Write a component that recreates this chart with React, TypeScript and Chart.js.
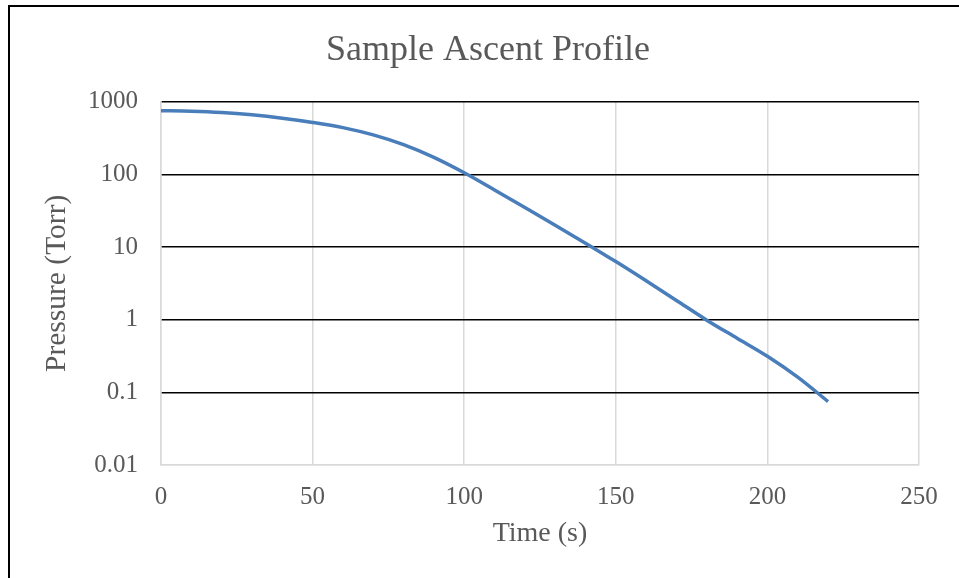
import React, { useEffect, useRef } from "react";
import { Chart, registerables } from "chart.js";

Chart.register(...registerables);

const timeSeconds = [0, 10, 20, 30, 40, 50, 60, 70, 80, 90, 100, 110, 120, 130, 140, 150, 160, 170, 180, 190, 200, 210, 220];
const pressureTorr = [752, 740, 710, 659, 593, 519, 440, 349, 256, 171, 105, 61, 35, 20, 11.3, 6.3, 3.43, 1.84, 0.985, 0.556, 0.314, 0.162, 0.0747];
const yTickValues = [0.01, 0.1, 1, 10, 100, 1000];
const xTickValues = [0, 50, 100, 150, 200, 250];

const chartTitle = "Sample Ascent Profile";
const xTitle = "Time (s)";
const yTitle = "Pressure (Torr)";

const FONT = "'Liberation Serif', 'DejaVu Serif', serif";
const TEXT = "#595959";

const titleShift = {
  id: "titleShift",
  afterLayout(chart: any) {
    const tb = chart.titleBlock;
    if (tb) {
      tb.left = 8;
      tb.right = 968;
      tb.width = 960;
    }
  },
};

export default function App() {
  const ref = useRef<HTMLCanvasElement | null>(null);

  useEffect(() => {
    document.body.style.margin = "0";
    document.body.style.overflow = "hidden";
    const canvas = ref.current;
    if (!canvas) return;
    const chart = new Chart(canvas, {
      type: "line",
      data: {
        datasets: [
          {
            label: "Pressure",
            data: timeSeconds.map((t, i) => ({ x: t, y: pressureTorr[i] })),
            borderColor: "#4a7ebb",
            borderWidth: 3.5,
            pointRadius: 0,
            fill: false,
            cubicInterpolationMode: "monotone",
          },
        ],
      },
      plugins: [titleShift],
      options: {
        animation: false,
        responsive: false,
        maintainAspectRatio: false,
        layout: { padding: { left: 0, right: 40, top: 0, bottom: 0 } },
        plugins: {
          legend: { display: false },
          tooltip: { enabled: false },
          title: {
            display: true,
            text: chartTitle,
            color: TEXT,
            font: { family: FONT, size: 36, weight: "normal" },
            padding: { top: 29, bottom: 29.5 },
          },
        },
        scales: {
          x: {
            type: "linear",
            min: 0,
            max: 250,
            afterBuildTicks: (scale: any) => {
              scale.ticks = xTickValues.map((v) => ({ value: v }));
            },
            afterFit: (scale: any) => {
              scale.height = 113;
            },
            grid: { color: "#d9d9d9", lineWidth: 1.5, drawTicks: false },
            border: { color: "#d9d9d9", width: 1.5 },
            ticks: {
              color: TEXT,
              padding: 17,
              font: { family: FONT, size: 25 },
              maxRotation: 0,
            },
            title: {
              display: true,
              text: xTitle,
              color: TEXT,
              font: { family: FONT, size: 28 },
              padding: { top: 0, bottom: 28 },
            },
          },
          y: {
            type: "logarithmic",
            min: 0.01,
            max: 1000,
            afterBuildTicks: (scale: any) => {
              scale.ticks = yTickValues.map((v) => ({ value: v }));
            },
            afterFit: (scale: any) => {
              scale.width = 161;
            },
            grid: {
              color: (ctx: any) => (ctx.tick && ctx.tick.value === 0.01 ? "#d9d9d9" : "#000000"),
              lineWidth: 1.5,
              drawTicks: false,
            },
            border: { color: "#d9d9d9", width: 1.5 },
            ticks: {
              color: TEXT,
              padding: 23,
              font: { family: FONT, size: 25 },
              callback: (v: any) => String(v),
            },
            title: {
              display: true,
              text: yTitle,
              color: TEXT,
              font: { family: FONT, size: 29.5 },
              padding: { top: 40, bottom: 0 },
            },
          },
        },
      },
    });
    return () => chart.destroy();
  }, []);

  return (
    <div style={{ position: "fixed", left: 0, top: 0, width: 959, height: 578, overflow: "hidden", background: "#fff" }}>
      <canvas ref={ref} width={959} height={578} style={{ position: "absolute", left: 0, top: 0, width: 959, height: 578 }} />
      <div
        style={{
          position: "absolute",
          left: 8,
          top: 5,
          width: 1000,
          height: 1000,
          borderLeft: "2px solid #000",
          borderTop: "2px solid #000",
          pointerEvents: "none",
        }}
      />
    </div>
  );
}
